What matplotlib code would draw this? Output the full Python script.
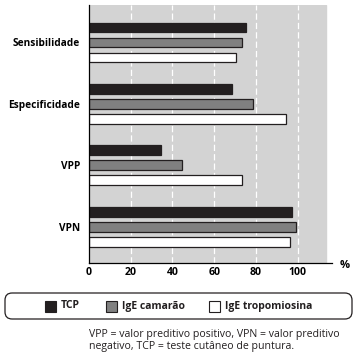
import matplotlib.pyplot as plt
from matplotlib.patches import FancyBboxPatch, Rectangle

categories = ['Sensibilidade', 'Especificidade', 'VPP', 'VPN']
tcp = [75.3, 68.4, 34.5, 97.4]
ige_camarao = [73.5, 78.5, 44.4, 99.4]
ige_tropomiosina = [70.7, 94.3, 73.5, 96.6]
series_names = ['TCP', 'IgE camarão', 'IgE tropomiosina']
xticks = [0, 20, 40, 60, 80, 100]
gray_end = 113.7

plt.rcParams['font.family'] = ['Open Sans', 'DejaVu Sans']

fig = plt.figure(figsize=(3.58, 3.57), dpi=100)
ax = fig.add_axes([89 / 358, 1 - 263 / 357, (332 - 89) / 358, (263 - 5) / 357])

ax.axvspan(0, gray_end, color='#d3d3d3', zorder=0)
for t in xticks[1:]:
    ax.axvline(t, color='white', lw=0.9, ls=(0, (5, 2.5)), zorder=1)

colors = ['#231f20', '#808080', 'white']
offsets = [-0.244, 0, 0.244]
for vals, c, off in zip([tcp, ige_camarao, ige_tropomiosina], colors, offsets):
    ax.barh([i + off for i in range(len(categories))], vals, height=0.16,
            color=c, edgecolor='#231f20', linewidth=0.9, zorder=2)

ax.set_ylim(3.59, -0.61)
ax.set_xlim(0, 116.5)
ax.set_yticks(range(len(categories)))
ax.set_yticklabels(categories, fontweight='bold', fontsize=7.3)
ax.set_xticks(xticks)
ax.set_xticklabels([str(t) for t in xticks], fontweight='bold', fontsize=7.6)
ax.tick_params(length=0, pad=3)
ax.tick_params(axis='y', pad=6.5)
for s in ['top', 'right']:
    ax.spines[s].set_visible(False)
ax.spines['left'].set_linewidth(0.9)
ax.spines['bottom'].set_linewidth(0.9)
ax.text(345 / 358, 1 - 266 / 357, '%', transform=fig.transFigure,
        fontsize=8, fontweight='bold', ha='center', va='center')

# legend box
box = FancyBboxPatch((5 / 358, 1 - 319 / 357), 347 / 358, 26 / 357,
                     boxstyle='round,pad=0,rounding_size=0.02',
                     transform=fig.transFigure, facecolor='white',
                     edgecolor='#231f20', linewidth=0.9)
fig.patches.append(box)
ly = 1 - 306 / 357
for name, c, x0 in zip(series_names, colors, [45, 106, 209]):
    fig.patches.append(Rectangle((x0 / 358, ly - 5.5 / 357), 11 / 358, 11 / 357,
                                 transform=fig.transFigure, facecolor=c,
                                 edgecolor='#231f20', linewidth=0.8))
    fig.text((x0 + 16) / 358, ly, name, fontsize=7.5, fontweight='bold',
             va='center', ha='left', color='#231f20')

fig.text(89 / 358, 1 - 334 / 357, 'VPP = valor preditivo positivo, VPN = valor preditivo',
         fontsize=7.6, va='center', ha='left', color='#231f20')
fig.text(89 / 358, 1 - 346 / 357, 'negativo, TCP = teste cutâneo de puntura.',
         fontsize=7.6, va='center', ha='left', color='#231f20')

fig.savefig('out.png', dpi=100)
